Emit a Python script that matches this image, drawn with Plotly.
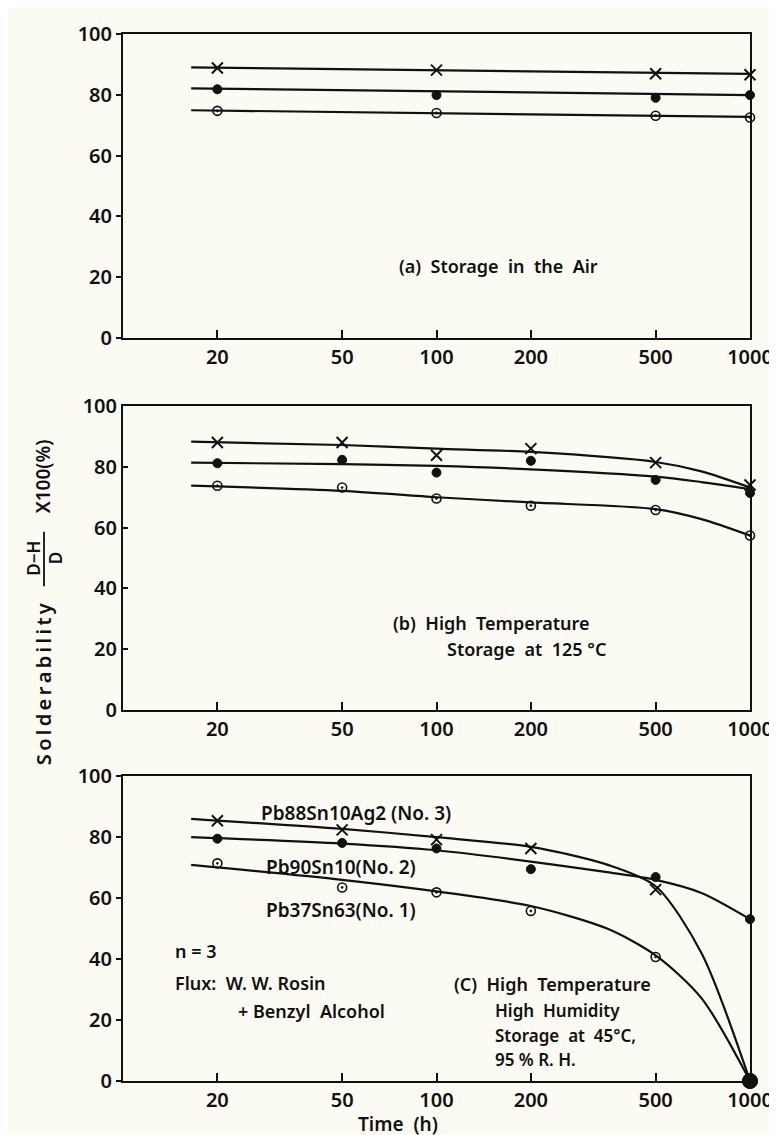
import plotly.graph_objects as go

# ---------------- data ----------------
x_ticks = [20, 50, 100, 200, 500, 1000]
x_tick_labels = ["20", "50", "100", "200", "500", "1000"]
y_ticks = [0, 20, 40, 60, 80, 100]
y_tick_labels = ["0", "20", "40", "60", "80", "100"]

# (a) Storage in the Air
a_time = [20, 100, 500, 1000]
a_no3 = [88.8, 88.1, 86.9, 86.6]
a_no2 = [81.8, 79.9, 79.0, 79.9]
a_no1 = [74.7, 74.0, 73.1, 72.5]
a_fit_time = [16.5, 1000]
a_fit_no3 = [89.0, 86.9]
a_fit_no2 = [82.1, 79.9]
a_fit_no1 = [74.9, 72.7]

# (b) High temperature storage at 125 C
b_time = [20, 50, 100, 200, 500, 1000]
b_no3 = [88.0, 88.0, 83.8, 86.0, 81.4, 74.0]
b_no2 = [81.2, 82.3, 78.1, 82.0, 75.7, 71.4]
b_no1 = [73.8, 73.2, 69.6, 67.2, 65.8, 57.4]
b_fit_time = [16.5, 50, 100, 200, 500, 700, 1000]
b_fit_no3 = [88.3, 87.2, 86.0, 84.9, 81.6, 78.5, 73.2]
b_fit_no2 = [81.4, 80.9, 80.3, 79.2, 76.8, 75.0, 72.7]
b_fit_no1 = [73.8, 72.1, 70.0, 68.3, 66.1, 62.8, 57.4]

# (c) High temperature high humidity storage
c_time = [20, 50, 100, 200, 500, 1000]
c_no3 = [85.4, 82.4, 79.2, 76.3, 62.8, 0]
c_no2 = [79.5, 78.1, 76.3, 69.5, 66.9, 53.1]
c_no1 = [71.4, 63.5, 61.9, 55.8, 40.7, 0]
c_fit_time = [16.5, 50, 100, 200, 350, 500, 700, 1000]
c_fit_no3 = [86.0, 82.7, 80.0, 76.8, 71.0, 63.9, 42.0, 0]
c_fit_no2 = [80.0, 77.9, 75.7, 72.0, 68.5, 66.0, 61.7, 53.1]
c_fit_no1 = [70.9, 66.0, 62.2, 57.4, 50.0, 41.2, 27.2, 0]

# ---------------- figure ----------------
W, H = 777, 1135
ML, MR, MT, MB = 115, 27, 15, 62
PW = W - ML - MR
PH = H - MT - MB
BG = "#fbfbf3"
INK = "#111111"
FONT = "Noto Sans"
WEIGHT = 600


def py(pix):  # pixel y (from top) -> paper y
    return (H - MB - pix) / PH


def px(pix):  # pixel x -> paper x
    return (pix - ML) / PW


panels = [
    ("", 15, 322, "outside"),
    ("2", 391, 698, "inside"),
    ("3", 765, 1073, "outside"),
]

fig = go.Figure()

X_MARK = dict(symbol="x-thin", size=11, color=INK, line=dict(color=INK, width=2))
F_MARK = dict(symbol="circle", size=9, color=INK, line=dict(color=INK, width=1))
O_MARK = dict(symbol="circle-open-dot", size=9, color=INK, line=dict(color=INK, width=1.6))
ZERO_MARK = dict(symbol="circle", size=15, color=INK, line=dict(color=INK, width=1))
LINE = dict(color=INK, width=2.2)


def add_panel(sfx, fit_t, fits, t, no3, no2, no1, shape):
    xa = "x" + sfx
    ya = "y" + sfx
    for f in fits:
        fig.add_trace(go.Scatter(x=fit_t, y=f, mode="lines",
                                 line=dict(shape=shape, smoothing=0.8, **LINE),
                                 xaxis=xa, yaxis=ya, hoverinfo="skip"))
    for ys, mk in [(no3, X_MARK), (no2, F_MARK), (no1, O_MARK)]:
        keep_t = [tt for tt, v in zip(t, ys) if v > 0]
        keep_v = [v for v in ys if v > 0]
        zero_t = [tt for tt, v in zip(t, ys) if v == 0]
        zero_v = [v for v in ys if v == 0]
        fig.add_trace(go.Scatter(x=keep_t, y=keep_v, mode="markers", marker=mk,
                                 cliponaxis=False, xaxis=xa, yaxis=ya))
        if zero_t:
            fig.add_trace(go.Scatter(x=zero_t, y=zero_v, mode="markers", marker=ZERO_MARK,
                                     cliponaxis=False, xaxis=xa, yaxis=ya))


add_panel("", a_fit_time, [a_fit_no3, a_fit_no2, a_fit_no1], a_time, a_no3, a_no2, a_no1, "linear")
add_panel("2", b_fit_time, [b_fit_no3, b_fit_no2, b_fit_no1], b_time, b_no3, b_no2, b_no1, "spline")
add_panel("3", c_fit_time, [c_fit_no3, c_fit_no2, c_fit_no1], c_time, c_no3, c_no2, c_no1, "spline")

layout = dict(
    width=W, height=H,
    margin=dict(l=ML, r=MR, t=MT, b=MB),
    paper_bgcolor=BG, plot_bgcolor=BG,
    showlegend=False,
    font=dict(family=FONT, color=INK, size=19),
)

TICKFONT = dict(size=20, family=FONT, color=INK, weight=WEIGHT)

for sfx, top, bot, ydir in panels:
    layout["xaxis" + sfx] = dict(
        type="log", range=[1, 3], domain=[0, 1], anchor="y" + sfx,
        tickvals=x_ticks, ticktext=x_tick_labels,
        ticks="inside", ticklen=8, tickwidth=1.5, tickcolor=INK,
        showline=True, linecolor=INK, linewidth=2, mirror=True,
        showgrid=False, zeroline=False, ticklabelstandoff=0,
        tickfont=TICKFONT,
    )
    layout["yaxis" + sfx] = dict(
        range=[0, 100], domain=[py(bot), py(top)], anchor="x" + sfx,
        tickvals=y_ticks, ticktext=y_tick_labels,
        ticks=ydir, ticklen=5, tickwidth=1.5, tickcolor=INK,
        showline=True, linecolor=INK, linewidth=2, mirror=True,
        showgrid=False, zeroline=False,
        tickfont=TICKFONT,
    )

fig.update_layout(**layout)

ann = []


def note(text, x, y, ref, anchor="left", size=18):
    ann.append(dict(text=text, x=x, y=y, xref="x" + ref, yref="y" + ref,
                    xanchor=anchor, yanchor="middle", showarrow=False,
                    font=dict(family=FONT, size=size, color=INK, weight=WEIGHT)))


# panel a
note("(a)  Storage  in  the  Air", 2.197, 23.5, "", anchor="center")
# panel b
note("(b)  High  Temperature", 1.854, 28.7, "2")
note("Storage  at  125 °C", 2.027, 19.9, "2")
# panel c
note("Pb88Sn10Ag2 (No. 3)", 1.435, 88.0, "3", size=19)
note("Pb90Sn10(No. 2)", 1.450, 70.1, "3", size=19)
note("Pb37Sn63(No. 1)", 1.450, 56.2, "3", size=19)
note("n = 3", 1.161, 42.5, "3")
note("Flux:  W. W. Rosin", 1.161, 32.1, "3")
note("+ Benzyl  Alcohol", 1.362, 23.0, "3")
note("(C)  High  Temperature", 2.049, 31.8, "3")
note("High  Humidity", 2.181, 23.0, "3", size=17)
note("Storage  at  45°C,", 2.181, 15.0, "3", size=17)
note("95 % R. H.", 2.181, 7.0, "3", size=17)

# x-axis title
ann.append(dict(text="Time  (h)", x=px(394), y=py(1116), xref="paper", yref="paper",
                xanchor="center", yanchor="middle", showarrow=False,
                font=dict(family=FONT, size=19, color=INK, weight=WEIGHT)))

# y-axis title pieces (rotated)
T = "\u2009"
for text, xpix, ypix, sz in [(T.join("Solderability"), 34, 672, 20),
                             ("D−H", 24, 545, 17), ("D", 47, 545, 17),
                             ("X100(%)", 34, 462, 19)]:
    ann.append(dict(text=text, x=px(xpix), y=py(ypix), xref="paper", yref="paper",
                    xanchor="center", yanchor="middle", showarrow=False, textangle=-90,
                    font=dict(family=FONT, size=sz, color=INK, weight=WEIGHT)))

fig.update_layout(annotations=ann)
fig.add_shape(type="line", xref="paper", yref="paper",
              x0=px(35), x1=px(35), y0=py(518), y1=py(573),
              line=dict(color=INK, width=1.8))

fig.write_html("out.html")
